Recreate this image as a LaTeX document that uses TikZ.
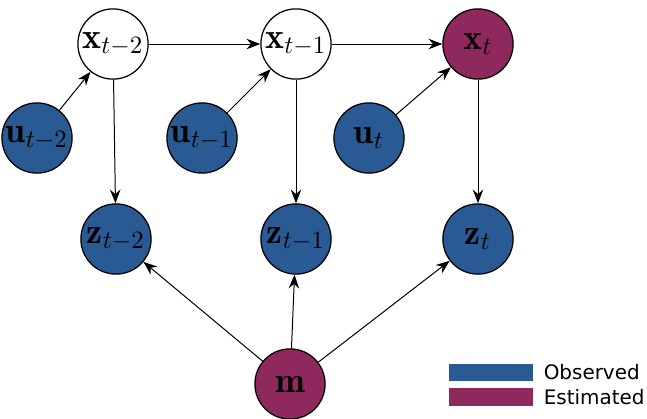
\documentclass[tikz,border=0pt]{standalone}
\usepackage{amsmath,amssymb}
\usepackage{fontspec}
\usepackage{tikz}
\usetikzlibrary{positioning,arrows.meta}
\newfontfamily\legendfont{DejaVu Sans}
\definecolor{obsblue}{HTML}{2A5A93}
\definecolor{estpurple}{HTML}{8F285D}

\begin{document}
\begin{tikzpicture}[
    x=0.0141cm, y=-0.0141cm,
    var/.style={draw, line width=0.5pt, circle, fill=#1, inner sep=0pt,
                minimum size=0.99cm, font=\Large},
    edge/.style={line width=0.4pt, -{Stealth[length=5.5pt, width=4.2pt, inset=1.8pt]}},
    key/.style={fill=#1, minimum width=1.18cm, minimum height=0.24cm, inner sep=0pt},
    every node/.style={font=\Large}
]
    \useasboundingbox (0,0) rectangle (647,418);

    % States
    \node[var=white] (x2) at (113, 44) {$\mathbf{x}_{t-2}$};
    \node[var=white] (x1) at (296, 44) {$\mathbf{x}_{t-1}$};
    \node[var=estpurple] (x0) at (478, 44) {$\mathbf{x}_{t}$};

    % Controls
    \node[var=obsblue] (u2) at (37, 138) {$\mathbf{u}_{t-2}$};
    \node[var=obsblue] (u1) at (202, 138) {$\mathbf{u}_{t-1}$};
    \node[var=obsblue] (u0) at (369, 138) {$\mathbf{u}_{t}$};

    % Measurements
    \node[var=obsblue] (z2) at (116, 239) {$\mathbf{z}_{t-2}$};
    \node[var=obsblue] (z1) at (296, 239) {$\mathbf{z}_{t-1}$};
    \node[var=obsblue] (z0) at (478, 239) {$\mathbf{z}_{t}$};

    % Map
    \node[var=estpurple] (m) at (290, 384) {$\mathbf{m}$};

    % Arrows
    \foreach \a/\b in {x2/x1, x1/x0, u2/x2, u1/x1, u0/x0, x2/z2, x1/z1, x0/z0, m/z2, m/z1, m/z0} {
        \draw[edge] (\a) -- (\b);
    }

    % Legend
    \node[key=obsblue] (kobs) at (491, 372.5) {};
    \node[key=estpurple] (kest) at (491, 397) {};
    \node[right=0.14cm of kobs, inner sep=0pt, font=\legendfont\fontsize{8}{10}\selectfont] {Observed};
    \node[right=0.14cm of kest, inner sep=0pt, font=\legendfont\fontsize{8}{10}\selectfont] {Estimated};
\end{tikzpicture}
\end{document}
